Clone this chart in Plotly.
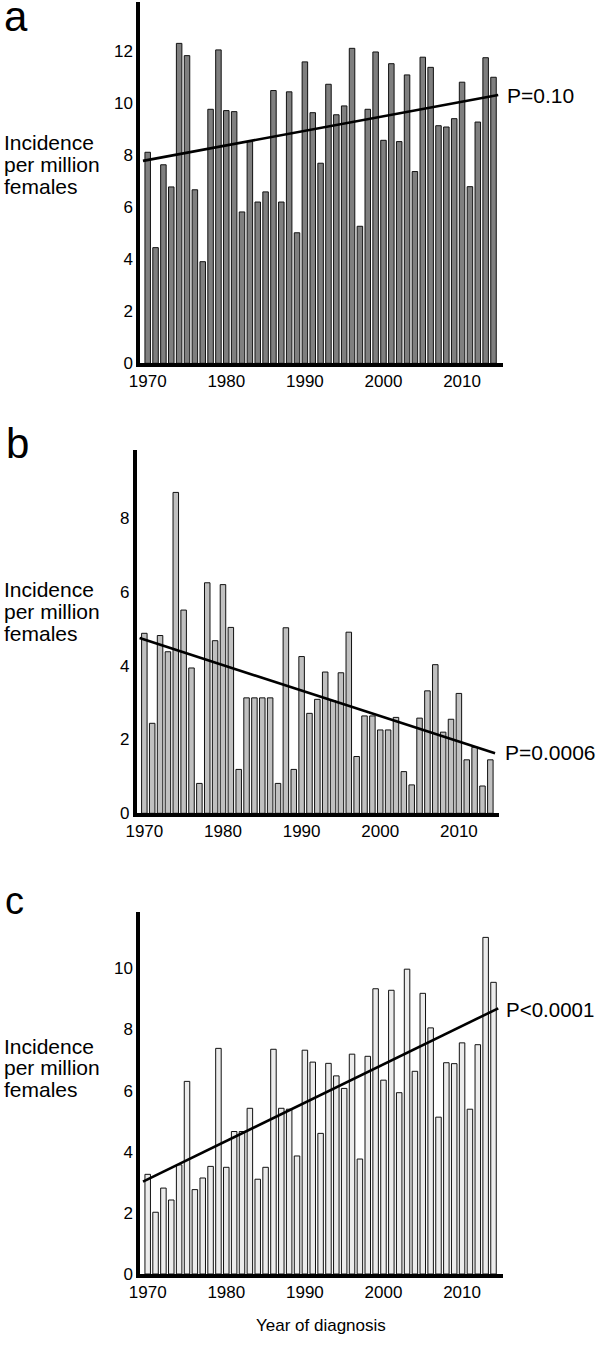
import plotly.graph_objects as go

W, H = 596, 1347

years = list(range(1970, 2015))

vals_a = [8.10, 4.44, 7.62, 6.77, 12.28, 11.81, 6.66, 3.90, 9.75, 12.03,
          9.70, 9.66, 5.81, 8.51, 6.19, 6.58, 10.47, 6.19, 10.42, 5.01,
          11.57, 9.62, 7.68, 10.71, 9.54, 9.88, 12.09, 5.26, 9.75, 11.95,
          8.56, 11.50, 8.51, 11.07, 7.36, 11.75, 11.36, 9.12, 9.07, 9.39,
          10.79, 6.78, 9.26, 11.73, 10.98]

vals_b = [4.88, 2.44, 4.82, 4.38, 8.70, 5.51, 3.94, 0.81, 6.25, 4.68,
          6.20, 5.04, 1.19, 3.13, 3.13, 3.13, 3.13, 0.81, 5.03, 1.19,
          4.25, 2.71, 3.09, 3.83, 3.05, 3.81, 4.91, 1.54, 2.64, 2.64,
          2.26, 2.26, 2.60, 1.13, 0.77, 2.58, 3.32, 4.03, 2.20, 2.55,
          3.25, 1.45, 1.79, 0.74, 1.45]

vals_c = [3.26, 2.02, 2.81, 2.42, 3.57, 6.30, 2.76, 3.14, 3.52, 7.38,
          3.49, 4.66, 4.66, 5.42, 3.10, 3.49, 7.35, 5.42, 5.39, 3.86,
          7.32, 6.93, 4.60, 6.89, 6.48, 6.07, 7.19, 3.76, 7.12, 9.33,
          6.34, 9.28, 5.93, 9.97, 6.63, 9.18, 8.05, 5.13, 6.91, 6.88,
          7.56, 5.39, 7.50, 11.01, 9.54]

trend_years = [1969.4, 2014.6]
trend_a = [7.77, 10.30]
trend_b = [4.75, 1.63]
trend_c = [3.02, 8.69]

p_labels = ["P=0.10", "P=0.0006", "P<0.0001"]
panel_letters = ["a", "b", "c"]
ylabel_lines = ["Incidence", "per million", "females"]
xlabel = "Year of diagnosis"
x_ticks = [1970, 1980, 1990, 2000, 2010]

FONT = "Arial, Liberation Sans, Helvetica, sans-serif"

def py(px):
    return 1 - px / H

def pxx(px):
    return px / W

panels = [
    dict(v=vals_a, t=trend_a, fill="#7f7f7f", xd=(140, 502.7), yd=(363.3, 1.7), ymax=13.88,
         yt=[0, 2, 4, 6, 8, 10, 12], xr=(1969.02, 2015.17)),
    dict(v=vals_b, t=trend_b, fill="#c0c0c0", xd=(136.7, 499.3), yd=(813.3, 450), ymax=9.85,
         yt=[0, 2, 4, 6, 8], xr=(1969.03, 2015.14)),
    dict(v=vals_c, t=trend_c, fill="#ececec", xd=(140, 502.7), yd=(1274, 911.7), ymax=11.85,
         yt=[0, 2, 4, 6, 8, 10], xr=(1969.02, 2015.17)),
]

fig = go.Figure()
layout = dict(width=W, height=H, margin=dict(l=0, r=0, t=0, b=0, pad=0), autosize=False,
              template="none",
              paper_bgcolor="white", plot_bgcolor="white", showlegend=False,
              font=dict(family=FONT, color="black"))

for i, p in enumerate(panels):
    n = "" if i == 0 else str(i + 1)
    xa, ya = "x" + n, "y" + n
    fig.add_trace(go.Bar(x=years, y=p["v"], xaxis=xa, yaxis=ya, width=0.7,
                         marker=dict(color=p["fill"], line=dict(color="#111111", width=1))))
    fig.add_trace(go.Scatter(x=trend_years, y=p["t"], xaxis=xa, yaxis=ya, mode="lines",
                             line=dict(color="black", width=2.6), hoverinfo="skip"))
    layout["xaxis" + n] = dict(domain=[pxx(p["xd"][0]), pxx(p["xd"][1])], range=list(p["xr"]),
                               anchor=ya, showline=True, linewidth=3.5, linecolor="black",
                               showgrid=False, zeroline=False, ticks="", tickvals=x_ticks,
                               ticktext=[str(t) for t in x_ticks], automargin=False,
                               tickfont=dict(size=17, family=FONT, color="black"))
    layout["yaxis" + n] = dict(domain=[py(p["yd"][0]), py(p["yd"][1])], range=[0, p["ymax"]],
                               anchor=xa, showline=True, linewidth=3.5, linecolor="black",
                               showgrid=False, zeroline=False, ticks="", tickvals=p["yt"],
                               automargin=False,
                               tickfont=dict(size=17, family=FONT, color="black"))

fig.update_layout(**layout)

ann = []
letter_pos = [(2, 16, 42), (4, 443, 42), (3, 901, 38)]
for L, (xx, yy, fs) in zip(panel_letters, letter_pos):
    ann.append(dict(text=L, x=pxx(xx), y=py(yy), xref="paper", yref="paper",
                    xanchor="left", yanchor="middle", showarrow=False,
                    font=dict(size=fs, family=FONT, color="black")))
ylab_y = [(143, 164.5, 186), (589.5, 611, 633.5), (1046, 1067.5, 1089)]
for ys in ylab_y:
    for txt, yy in zip(ylabel_lines, ys):
        ann.append(dict(text=txt, x=pxx(2), y=py(yy), xref="paper", yref="paper",
                        xanchor="left", yanchor="middle", showarrow=False,
                        font=dict(size=21, family=FONT, color="black")))
p_pos = [(505, 95, 21), (503, 753, 21), (504, 1009, 20.5)]
for txt, (xx, yy, fs) in zip(p_labels, p_pos):
    ann.append(dict(text=txt, x=pxx(xx), y=py(yy), xref="paper", yref="paper",
                    xanchor="left", yanchor="middle", showarrow=False,
                    font=dict(size=fs, family=FONT, color="black")))
ann.append(dict(text=xlabel, x=pxx(321), y=py(1325), xref="paper", yref="paper",
                xanchor="center", yanchor="middle", showarrow=False,
                font=dict(size=17, family=FONT, color="black")))
fig.update_layout(annotations=ann)

fig.write_html("out.html", config={"displayModeBar": False},
               post_script="document.body.style.margin='0px';document.body.style.overflow='hidden';")
